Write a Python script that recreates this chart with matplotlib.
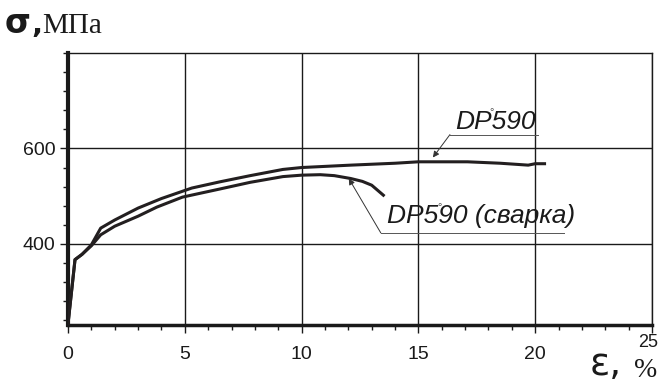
import matplotlib
matplotlib.use('Agg')
import matplotlib.pyplot as plt
from matplotlib import font_manager
from matplotlib.ticker import FixedLocator, MultipleLocator
from matplotlib.transforms import ScaledTranslation

# noms de polices disponibles
noms = {f.name for f in font_manager.fontManager.ttflist}
if 'Liberation Sans Narrow' in noms:
    police = 'Liberation Sans Narrow'
    t_ticks, t_label = 16, 22
else:
    police = 'Liberation Sans'
    t_ticks, t_label = 14, 19

# DP590
eps_dp590 = [0, 0.3, 0.6, 1.0, 1.4, 2.0, 3.0, 4.0, 5.3, 6.5, 7.8, 9.2, 10.0,
             12.1, 14.0, 15.0, 17.1, 18.5, 19.7, 20.0, 20.4]
sig_dp590 = [232, 367, 378, 398, 433, 450, 475, 495, 517, 530, 543, 556, 560,
             565, 569, 572, 572, 569, 565, 568, 568]

# DP590 (сварка)
eps_svarka = [0, 0.3, 0.6, 1.0, 1.4, 2.0, 3.0, 3.8, 4.9, 6.5, 7.8, 9.2, 10.0,
              10.8, 11.4, 12.1, 12.6, 13.0, 13.5]
sig_svarka = [232, 367, 378, 396, 419, 437, 458, 477, 498, 515, 529, 541, 544,
              545, 543, 537, 531, 523, 502]

x_ticks = [0, 5, 10, 15, 20, 25]
y_ticks = [400, 600]

couleur = '#231f20'

fig = plt.figure(figsize=(6.58, 3.88), dpi=100)
ax = fig.add_axes([68/658, 1 - 325/388, 584/658, 272/388])

ax.plot(eps_dp590, sig_dp590, color=couleur, lw=2.2, solid_joinstyle='round', zorder=3)
ax.plot(eps_svarka, sig_svarka, color=couleur, lw=2.2, solid_joinstyle='round', zorder=3)

ax.set_xlim(0, 25)
ax.set_ylim(230, 800)

ax.xaxis.set_major_locator(FixedLocator(x_ticks))
ax.xaxis.set_minor_locator(MultipleLocator(1))
ax.yaxis.set_major_locator(FixedLocator(y_ticks))
ax.yaxis.set_minor_locator(MultipleLocator(40))

ax.grid(True, which='major', color='#1a1a1a', lw=1.0)
ax.tick_params(which='major', length=6, width=1.0, color='#1a1a1a',
               labelsize=t_ticks, labelcolor='#1a1a1a')
ax.tick_params(axis='x', which='major', pad=9)
ax.tick_params(axis='y', which='major', pad=3)
ax.tick_params(which='minor', length=3.5, width=1.0, color='#1a1a1a')
for lab in ax.get_xticklabels() + ax.get_yticklabels():
    lab.set_family(police)
# le "25" est decale vers le haut et a gauche
lab25 = ax.get_xticklabels()[-1]
lab25.set_transform(lab25.get_transform() + ScaledTranslation(-4/100, 12/100, fig.dpi_scale_trans))
lab25.set_fontsize(t_ticks - 1)

ax.spines['left'].set_linewidth(3)
ax.spines['bottom'].set_linewidth(2.5)
ax.spines['top'].set_linewidth(1.0)
ax.spines['right'].set_linewidth(1.0)
for s in ax.spines.values():
    s.set_color('#1a1a1a')

# etiquettes des courbes
fleche = dict(arrowstyle='-|>', lw=0.7, color='#333333', mutation_scale=9,
              shrinkA=0, shrinkB=0)
ax.annotate('', xy=(15.62, 581), xytext=(16.35, 629), arrowprops=fleche)
ax.plot([16.35, 20.13], [629, 629], color='#555555', lw=0.7)
ax.text(18.3, 640, 'DP590', family=police, style='italic', fontsize=t_label,
        ha='center', va='baseline', color='#1a1a1a')
ax.text(18.14, 669, '°', family=police, fontsize=8, ha='center', va='baseline',
        color='#555555')

ax.annotate('', xy=(12.02, 537), xytext=(13.39, 423), arrowprops=fleche)
ax.plot([13.39, 21.24], [423, 423], color='#555555', lw=0.7)
ax.text(17.7, 443, 'DP590 (сварка)', family=police, style='italic', fontsize=t_label,
        ha='center', va='baseline', color='#1a1a1a')
ax.text(15.92, 471, '°', family=police, fontsize=8, ha='center', va='baseline',
        color='#555555')

# titres des axes
fig.text(5/658, 1 - 33/388, 'σ', fontsize=24, fontweight='bold',
         family='DejaVu Sans', va='baseline', ha='left', color='#1a1a1a')
fig.text(31/658, 1 - 33/388, ',', fontsize=21, fontweight='bold',
         family='DejaVu Sans', va='baseline', ha='left', color='#1a1a1a')
fig.text(42/658, 1 - 33/388, 'МПа', fontsize=21, family='Liberation Serif',
         va='baseline', ha='left', color='#1a1a1a')
fig.text(590/658, 1 - 375/388, 'ε,', fontsize=27, family='DejaVu Sans',
         va='baseline', ha='left', color='#1a1a1a')
fig.text(657/658, 1 - 377/388, '%', fontsize=20, family='Liberation Serif',
         va='baseline', ha='right', color='#1a1a1a')

fig.savefig('out.png', dpi=100)
